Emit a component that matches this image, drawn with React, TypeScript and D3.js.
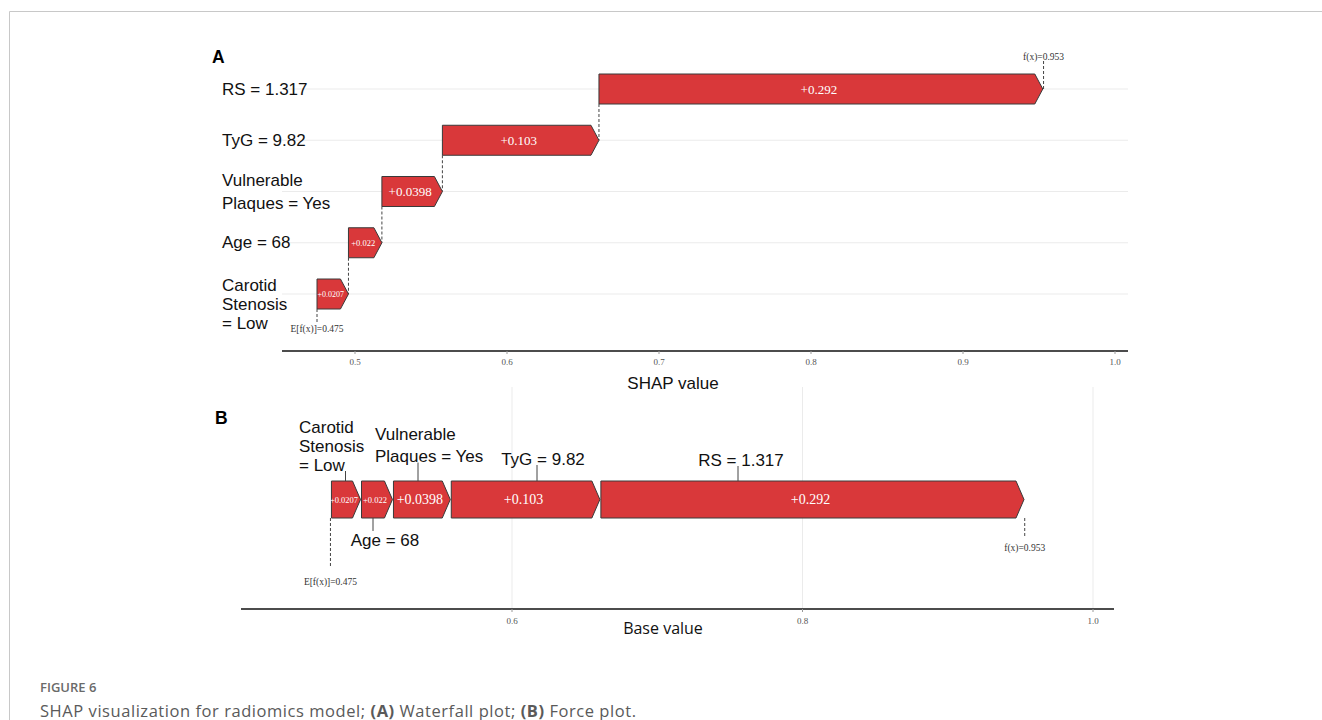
import React from "react";
import * as d3 from "d3";

// ---------- data ----------
const features = ["RS = 1.317", "TyG = 9.82", "Vulnerable\nPlaques = Yes", "Age = 68", "Carotid\nStenosis\n= Low"];
const shapValues = [0.292, 0.103, 0.0398, 0.022, 0.0207];
const valueLabels = ["+0.292", "+0.103", "+0.0398", "+0.022", "+0.0207"];
const baseValue = 0.475;
const fxValue = 0.953;
const ticksA = [0.5, 0.6, 0.7, 0.8, 0.9, 1.0];
const ticksB = [0.6, 0.8, 1.0];

// ---------- layout (not data) ----------
const W = 1322, H = 720;
const RED = "#d9383a";
const SANS = "'Liberation Sans', Arial, sans-serif";
const SERIF = "'Liberation Serif', 'Times New Roman', serif";
const CAPFONT = "'Open Sans', 'Noto Sans', sans-serif";

// waterfall
const xA = d3.scaleLinear().domain([0.5, 1.0]).range([355, 1115]);
const yA = d3.scalePoint<string>().domain(features).range([89, 294]);
const barHA = 30;
const axisA = { y: 351, x0: 282, x1: 1128 };
const labelLayoutA = [
  { dy: 0, lh: 0 },
  { dy: 0, lh: 0 },
  { dy: -11, lh: 22.5 },
  { dy: 0, lh: 0 },
  { dy: -9, lh: 19 },
];
const valueFontA = [13, 13, 13, 8.5, 8];

// force
const xB = d3.scaleLinear().domain([0.6, 1.0]).range([512, 1093]);
const forceY = 481, forceH = 37;
const axisB = { y: 609, x0: 241, x1: 1114 };
const valueFontB = [14, 14, 14, 8.5, 8.5];
const forceLabels = [
  { lx: 738, text: ["RS = 1.317"], tx: 741, anchor: "middle", ty: [460], above: true },
  { lx: 537, text: ["TyG = 9.82"], tx: 543, anchor: "middle", ty: [459], above: true },
  { lx: 418, text: ["Vulnerable", "Plaques = Yes"], tx: 375, anchor: "start", ty: [434, 456.5], above: true },
  { lx: 373, text: ["Age = 68"], tx: 385, anchor: "middle", ty: [540], above: false },
  { lx: 345.5, text: ["Carotid", "Stenosis", "= Low"], tx: 299, anchor: "start", ty: [427, 446, 465], above: true },
];

function arrowPath(x0: number, x1: number, yTop: number, h: number, depth: number) {
  const d = Math.min(depth, (x1 - x0) * 0.3);
  const p = d3.path();
  p.moveTo(x0, yTop);
  p.lineTo(x1 - d, yTop);
  p.lineTo(x1, yTop + h / 2);
  p.lineTo(x1 - d, yTop + h);
  p.lineTo(x0, yTop + h);
  p.closePath();
  return p.toString();
}

export default function App() {
  const n = features.length;
  const startsA: number[] = new Array(n);
  let acc = baseValue;
  for (let i = n - 1; i >= 0; i--) {
    startsA[i] = acc;
    acc += shapValues[i];
  }

  return (
    <svg width={W} height={H} style={{ position: "absolute", left: 0, top: 0, background: "#fff" }}>
      {/* frame */}
      <line x1={9.5} y1={11.5} x2={W} y2={11.5} stroke="#c8c8c8" strokeWidth={1} />
      <line x1={9.5} y1={11.5} x2={9.5} y2={H} stroke="#c8c8c8" strokeWidth={1} />

      {/* ---------------- Panel A ---------------- */}
      <text x={212} y={63} fontFamily={SANS} fontWeight="bold" fontSize={17.5}>A</text>

      {features.map((f, i) => (
        <line key={"g" + i} x1={axisA.x0} x2={axisA.x1} y1={yA(f)!} y2={yA(f)!} stroke="#ebebeb" strokeWidth={1} />
      ))}

      {features.map((f, i) => {
        const lines = f.split("\n");
        const L = labelLayoutA[i];
        const cy = yA(f)!;
        return (
          <text key={"l" + i} fontFamily={SANS} fontSize={17} fill="#111">
            {lines.map((t, j) => (
              <tspan key={j} x={222} y={cy + L.dy + j * L.lh} dominantBaseline="central">{t}</tspan>
            ))}
          </text>
        );
      })}

      {/* connectors */}
      {features.map((f, i) => {
        if (i === n - 1) return null;
        const x = xA(startsA[i]);
        return (
          <line key={"c" + i} x1={x} x2={x} y1={yA(f)! + barHA / 2} y2={yA(features[i + 1])!}
            stroke="#444" strokeWidth={1} strokeDasharray="3,2" />
        );
      })}
      <line x1={xA(baseValue)} x2={xA(baseValue)} y1={yA(features[n - 1])! + barHA / 2} y2={322}
        stroke="#444" strokeWidth={1} strokeDasharray="3,2" />
      <text x={xA(baseValue)} y={329} textAnchor="middle" dominantBaseline="central" fontFamily={SERIF} fontSize={9.5} fill="#333">E[f(x)]=0.475</text>
      <line x1={xA(fxValue)} x2={xA(fxValue)} y1={yA(features[0])!} y2={61}
        stroke="#444" strokeWidth={1} strokeDasharray="3,2" />
      <text x={xA(fxValue)} y={57} textAnchor="middle" dominantBaseline="central" fontFamily={SERIF} fontSize={9.5} fill="#333">f(x)=0.953</text>

      {features.map((f, i) => {
        const x0 = xA(startsA[i]);
        const x1 = xA(startsA[i] + shapValues[i]);
        const cy = yA(f)!;
        return (
          <g key={"b" + i}>
            <path d={arrowPath(x0, x1, cy - barHA / 2, barHA, 8)} fill={RED} stroke="#3a3a3a" strokeWidth={1} />
            <text x={(x0 + x1) / 2 - 2} y={cy} textAnchor="middle" dominantBaseline="central"
              fontFamily={SERIF} fontSize={valueFontA[i]} fill="#fff">{valueLabels[i]}</text>
          </g>
        );
      })}

      {/* axis A */}
      <line x1={axisA.x0} x2={axisA.x1} y1={axisA.y} y2={axisA.y} stroke="#111" strokeWidth={1.5} />
      {ticksA.map((t) => (
        <g key={"ta" + t}>
          <line x1={xA(t)} x2={xA(t)} y1={axisA.y} y2={axisA.y + 3} stroke="#999" />
          <text x={xA(t)} y={axisA.y + 11} textAnchor="middle" dominantBaseline="central"
            fontFamily={SERIF} fontSize={9} fill="#555">{d3.format(".1f")(t)}</text>
        </g>
      ))}
      <text x={673} y={383} textAnchor="middle" dominantBaseline="central" fontFamily={SANS} fontSize={17} fill="#111">SHAP value</text>

      {/* ---------------- Panel B ---------------- */}
      <text x={215} y={424} fontFamily={SANS} fontWeight="bold" fontSize={17.5}>B</text>

      {ticksB.map((t) => (
        <line key={"gb" + t} x1={xB(t)} x2={xB(t)} y1={387} y2={axisB.y} stroke="#ebebeb" strokeWidth={1} />
      ))}

      {features.map((f, i) => {
        const x0 = xB(startsA[i]);
        const x1 = xB(startsA[i] + shapValues[i]);
        return (
          <g key={"fb" + i}>
            <path d={arrowPath(x0 + 1, x1, forceY, forceH, 8)} fill={RED} stroke="#3a3a3a" strokeWidth={1} />
            <text x={(x0 + x1) / 2 - 1.5} y={forceY + forceH / 2} textAnchor="middle" dominantBaseline="central"
              fontFamily={SERIF} fontSize={valueFontB[i]} fill="#fff">{valueLabels[i]}</text>
          </g>
        );
      })}

      {forceLabels.map((L, i) => (
        <g key={"fl" + i}>
          {L.above ? (
            <line x1={L.lx} x2={L.lx} y1={L.ty[L.ty.length - 1] + 6} y2={forceY} stroke="#444" strokeWidth={1} />
          ) : (
            <line x1={L.lx} x2={L.lx} y1={forceY + forceH} y2={L.ty[0] - 9} stroke="#444" strokeWidth={1} />
          )}
          <text fontFamily={SANS} fontSize={17} fill="#111" textAnchor={L.anchor as any}>
            {L.text.map((t, j) => (
              <tspan key={j} x={L.tx} y={L.ty[j]} dominantBaseline="central">{t}</tspan>
            ))}
          </text>
        </g>
      ))}

      <line x1={xB(baseValue)} x2={xB(baseValue)} y1={forceY + forceH} y2={568}
        stroke="#444" strokeWidth={1} strokeDasharray="3,2" />
      <text x={xB(baseValue)} y={582} textAnchor="middle" dominantBaseline="central" fontFamily={SERIF} fontSize={9.5} fill="#333">E[f(x)]=0.475</text>
      <line x1={xB(fxValue)} x2={xB(fxValue)} y1={forceY + forceH} y2={538}
        stroke="#444" strokeWidth={1} strokeDasharray="3,2" />
      <text x={xB(fxValue)} y={548} textAnchor="middle" dominantBaseline="central" fontFamily={SERIF} fontSize={9.5} fill="#333">f(x)=0.953</text>

      {/* axis B */}
      <line x1={axisB.x0} x2={axisB.x1} y1={axisB.y} y2={axisB.y} stroke="#111" strokeWidth={1.5} />
      {ticksB.map((t) => (
        <g key={"tb" + t}>
          <line x1={xB(t)} x2={xB(t)} y1={axisB.y} y2={axisB.y + 3} stroke="#999" />
          <text x={xB(t)} y={axisB.y + 12} textAnchor="middle" dominantBaseline="central"
            fontFamily={SERIF} fontSize={9} fill="#555">{d3.format(".1f")(t)}</text>
        </g>
      ))}
      <text x={663} y={628} textAnchor="middle" dominantBaseline="central" fontFamily={CAPFONT} fontSize={16} fill="#111">Base value</text>

      {/* caption */}
      <text x={40} y={687} dominantBaseline="central" fontFamily={CAPFONT} fontSize={13} fontWeight={600} fill="#6a6a6a">FIGURE 6</text>
      <text x={40} y={710} dominantBaseline="central" fontFamily={CAPFONT} fontSize={16.5} letterSpacing={0.55} fill="#5a5a5a">
        SHAP visualization for radiomics model; <tspan fontWeight="bold">(A)</tspan> Waterfall plot; <tspan fontWeight="bold">(B)</tspan> Force plot.
      </text>
    </svg>
  );
}
